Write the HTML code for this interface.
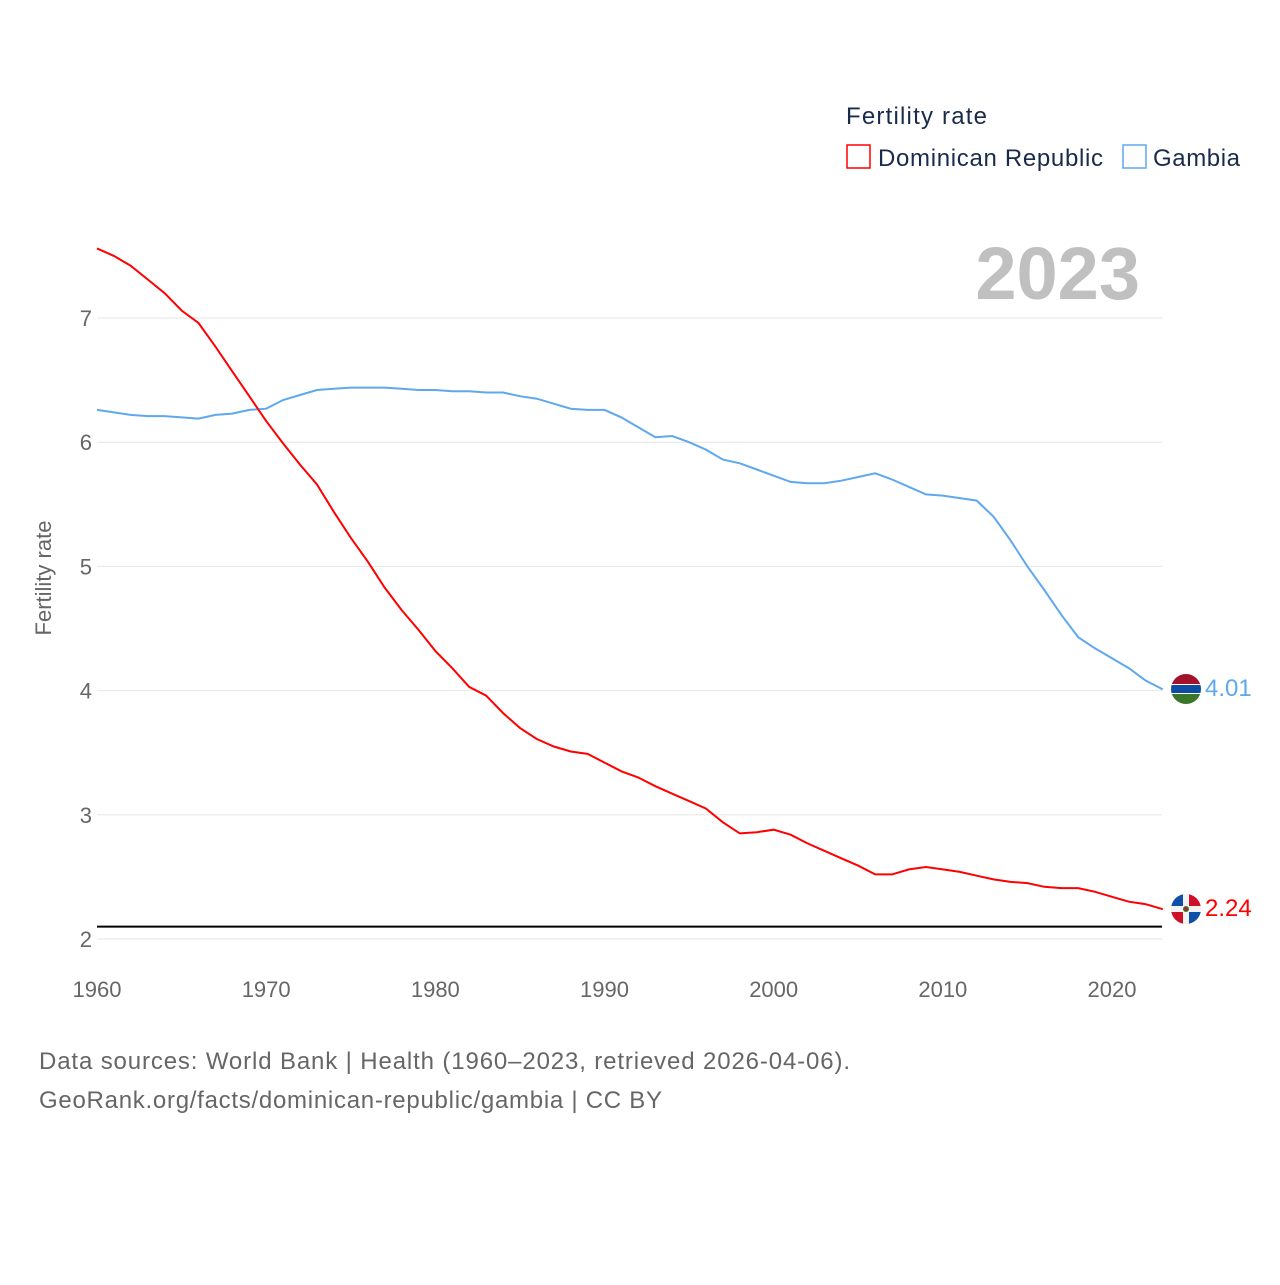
<!DOCTYPE html>
<html><head><meta charset="utf-8"><style>
body{margin:0;background:#fff;font-family:"Liberation Sans",sans-serif;}
svg text{font-family:"Liberation Sans",sans-serif;}
</style></head><body>
<svg id="chart" width="1280" height="1280" viewBox="0 0 1280 1280">
<defs>
<clipPath id="c1"><circle cx="1186" cy="689" r="15"/></clipPath>
<clipPath id="c2"><circle cx="1186" cy="909" r="15"/></clipPath>
</defs>
<text x="846" y="124" font-size="24" fill="#1a2b4a" textLength="141">Fertility rate</text>
<g>
<rect x="847" y="145" width="23" height="23" fill="none" stroke="#f00" stroke-width="1.5"/>
<text x="878" y="166" font-size="24" fill="#1a2b4a" textLength="225">Dominican Republic</text></g>
<g>
<rect x="1123" y="145" width="23" height="23" fill="none" stroke="#5ea8ee" stroke-width="1.5"/>
<text x="1153" y="166" font-size="24" fill="#1a2b4a" textLength="87">Gambia</text></g>
<text x="1140" y="299" font-size="74" font-weight="bold" fill="#c0c0c0" text-anchor="end">2023</text>
<text transform="translate(51,578) rotate(-90)" font-size="22" fill="#666" text-anchor="middle">Fertility rate</text>
<g id="grid"></g><g id="series"></g>
<g clip-path="url(#c1)">
<rect x="1171" y="674" width="30" height="10" fill="#a3122a"/><rect x="1171" y="684" width="30" height="10" fill="#fff"/>
<rect x="1171" y="685" width="30" height="8" fill="#0c4ca3"/><rect x="1171" y="694" width="30" height="10" fill="#3a7728"/></g>
<g clip-path="url(#c2)">
<rect x="1171" y="894" width="30" height="30" fill="#f2f2f2"/>
<rect x="1171" y="894" width="12" height="12" fill="#0f4fa8"/><rect x="1189" y="894" width="12" height="12" fill="#ce1126"/>
<rect x="1171" y="912" width="12" height="12" fill="#ce1126"/><rect x="1189" y="912" width="12" height="12" fill="#0f4fa8"/>
<circle cx="1186" cy="909" r="3" fill="#3a7728"/><circle cx="1186" cy="909" r="1.5" fill="#ce1126"/></g>
<text x="1205" y="696" font-size="24" fill="#5ea8ee">4.01</text>
<text x="1205" y="916" font-size="24" fill="#f00">2.24</text>
<text x="39" y="1069" font-size="24" fill="#666" textLength="811">Data sources: World Bank | Health (1960–2023, retrieved 2026-04-06).</text>
<text x="39" y="1108" font-size="24" fill="#666" textLength="623">GeoRank.org/facts/dominican-republic/gambia | CC BY</text>
</svg>
<script>
const years=[];for(let y=1960;y<=2023;y++)years.push(y);
const yTicks=[2,3,4,5,6,7];
const xTicks=[1960,1970,1980,1990,2000,2010,2020];
const replacementLevel=2.1;
const dominican=[7.56,7.50,7.42,7.31,7.20,7.06,6.96,6.77,6.57,6.37,6.17,5.99,5.82,5.66,5.44,5.23,5.04,4.83,4.65,4.49,4.32,4.18,4.03,3.96,3.82,3.70,3.61,3.55,3.51,3.49,3.42,3.35,3.30,3.23,3.17,3.11,3.05,2.94,2.85,2.86,2.88,2.84,2.77,2.71,2.65,2.59,2.52,2.52,2.56,2.58,2.56,2.54,2.51,2.48,2.46,2.45,2.42,2.41,2.41,2.38,2.34,2.30,2.28,2.24];
const gambia=[6.26,6.24,6.22,6.21,6.21,6.20,6.19,6.22,6.23,6.26,6.27,6.34,6.38,6.42,6.43,6.44,6.44,6.44,6.43,6.42,6.42,6.41,6.41,6.40,6.40,6.37,6.35,6.31,6.27,6.26,6.26,6.20,6.12,6.04,6.05,6.00,5.94,5.86,5.83,5.78,5.73,5.68,5.67,5.67,5.69,5.72,5.75,5.70,5.64,5.58,5.57,5.55,5.53,5.40,5.21,5.00,4.81,4.61,4.43,4.34,4.26,4.18,4.08,4.01];
const NS='http://www.w3.org/2000/svg';
const x=v=>97+(v-1960)*(1112-97)/60;
const y=v=>939-(v-2)*(939-318)/5;
function mk(t,a,p){const e=document.createElementNS(NS,t);for(const k in a)e.setAttribute(k,a[k]);p.appendChild(e);return e;}
const g=document.getElementById('grid');
yTicks.forEach(t=>{
 const l=mk('line',{x1:97,x2:1162,y1:y(t),y2:y(t),stroke:'#e6e6e6','stroke-width':1},g);
 
 
 const tx=mk('text',{x:92,y:y(t)+8,'font-size':22,fill:'#666','text-anchor':'end'},g);tx.textContent=t;
 
 
});
xTicks.forEach(t=>{
 const tx=mk('text',{x:x(t),y:997,'font-size':22,fill:'#666','text-anchor':'middle'},g);tx.textContent=t;
 
 
});
const s=document.getElementById('series');
const rl=mk('line',{x1:97,x2:1162,y1:y(replacementLevel),y2:y(replacementLevel),stroke:'#000','stroke-width':2},s);


function line(d,c,n){
 const p=mk('path',{d:d.map((v,i)=>(i?'L':'M')+x(years[i]).toFixed(1)+','+y(v).toFixed(1)).join(''),fill:'none',stroke:c,'stroke-width':2},s);
 
 
}
line(gambia,'#5ea8ee','gambia-line');
line(dominican,'#f00','dominican-republic-line');
</script>
</body></html>
